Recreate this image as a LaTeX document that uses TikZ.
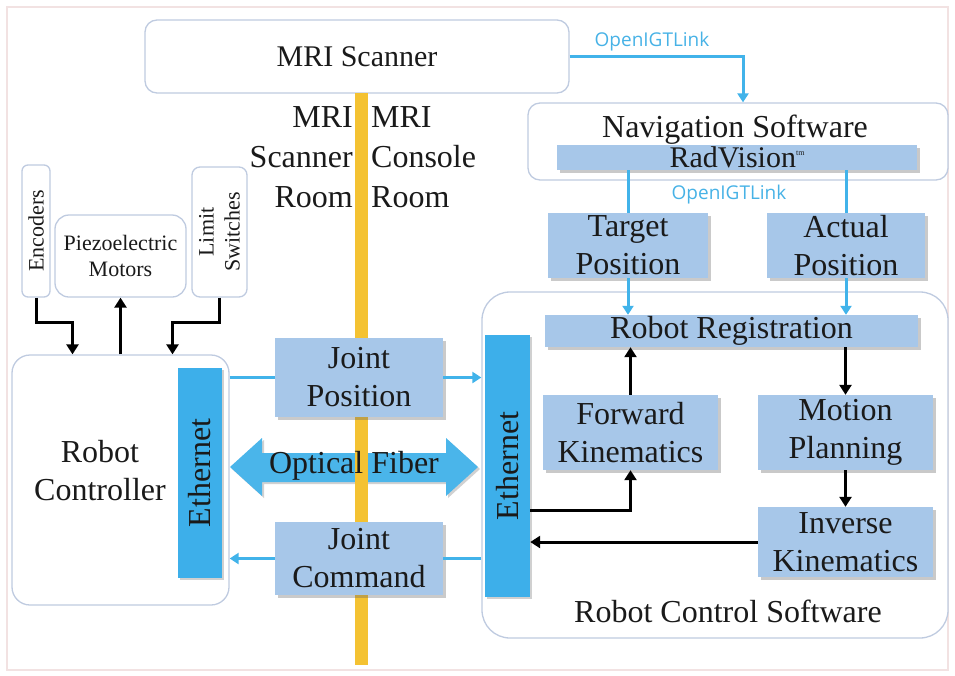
\documentclass[tikz,border=0pt]{standalone}
\usepackage{fontspec}
\setmainfont{Liberation Serif}
\newfontfamily\linkfont{Open Sans}
\usetikzlibrary{arrows.meta,shadows,calc}
\definecolor{boxline}{HTML}{BFCBE0}
\definecolor{lightblue}{HTML}{A7C7E9}
\definecolor{ethblue}{HTML}{3DAFEA}
\definecolor{linkblue}{HTML}{41B3EA}
\definecolor{fiberblue}{HTML}{4AB5EA}
\definecolor{wallyellow}{HTML}{F4C232}
\definecolor{textblue}{HTML}{47B2E6}
\definecolor{framepink}{HTML}{F2E2E2}
\definecolor{ink}{HTML}{1A1A1A}
\begin{document}
\begin{tikzpicture}[x=1pt,y=-1pt,
  rbox/.style={draw=boxline,line width=1.3pt,fill=white,rounded corners=#1,inner sep=0pt},
  rbox/.default=12pt,
  lbox/.style={fill=lightblue,inner sep=0pt,drop shadow={shadow xshift=2.5pt,shadow yshift=-2.5pt,opacity=0.35,fill=black!60}},
  ebox/.style={fill=ethblue,inner sep=0pt,drop shadow={shadow xshift=2pt,shadow yshift=-2pt,opacity=0.3,fill=black!60}},
  bigtxt/.style={font=\fontsize{32}{38}\selectfont,text=ink,align=center},
  smalltxt/.style={font=\fontsize{22}{26}\selectfont,text=ink,align=center},
  linktxt/.style={font={\linkfont\fontsize{19}{22}\selectfont},text=textblue,inner sep=0pt},
  bline/.style={draw=linkblue,line width=3pt},
  blarrow/.style={bline,-{Triangle[length=9pt,width=11pt]}},
  karrow/.style={draw=black,line width=3pt,-{Triangle[length=10pt,width=12pt]}},
  every label/.style={inner sep=0pt}
]
\useasboundingbox (0,0) rectangle (955,675);
\draw[draw=framepink,line width=2pt] (7,7) rectangle (948,670);

% MRI scanner
\node[rbox, minimum width=424pt, minimum height=73pt, font=\fontsize{30}{36}\selectfont, text=ink] (mri) at (357,56.5) {MRI Scanner};

% optical fiber arrow (under the wall)
\path[fill=fiberblue, drop shadow={shadow xshift=2pt,shadow yshift=-2pt,opacity=0.3,fill=black!60}]
  (230,467) -- (262,438) -- (262,453) -- (446,453) -- (446,438) -- (478,467)
  -- (446,496) -- (446,482) -- (262,482) -- (262,496) -- cycle;

% wall between rooms
\node[fill=wallyellow, minimum width=13pt, minimum height=572pt, inner sep=0pt] (wall) at (361.5,379) {};
\node[bigtxt] (fiber) at (354,466) {Optical Fiber};

% room labels
\node[font=\fontsize{32}{40}\selectfont, text=ink, align=right, anchor=east, inner sep=0pt] (scroom) at (353,157) {MRI\\Scanner\\Room};
\node[font=\fontsize{32}{40}\selectfont, text=ink, align=left, anchor=west, inner sep=0pt] (coroom) at (371,157) {MRI\\Console\\Room};

% navigation software
\node[rbox, minimum width=420pt, minimum height=77pt] (nav) at (738,141.5) {};
\node[lbox, minimum width=360pt, minimum height=25pt,
  label={[font=\fontsize{30}{36}\selectfont,text=ink]center:RadVision\raisebox{0.9ex}{\fontsize{8}{8}\selectfont tm}}] (rad) at (737,157.5) {};
\node[bigtxt, inner sep=0pt] (navtxt) at (735,130) {Navigation Software};
\draw[blarrow] (mri.east) -| ([xshift=5pt]nav.north);
\node[linktxt] (link1) at (652,42) {OpenIGTLink};

% target / actual position
\node[lbox, bigtxt, minimum width=160pt, minimum height=65pt] (target) at (628,245.5) {Target\\Position};
\node[lbox, bigtxt, minimum width=158pt, minimum height=65pt] (actual) at (846,245.5) {Actual\\Position};
\draw[bline] (rad.south -| target.north) -- (target.north);
\draw[bline] (rad.south -| actual.north) -- (actual.north);
\node[linktxt] (link2) at (729,195) {OpenIGTLink};

% robot control software
\node[rbox=28pt, minimum width=466pt, minimum height=346pt] (rcs) at (715,465) {};
\node[lbox, minimum width=373pt, minimum height=32pt, label={[bigtxt]center:Robot Registration}] (reg) at (731.5,331) {};
\draw[blarrow] (target.south) -- (target.south |- reg.north);
\draw[blarrow] (actual.south) -- (actual.south |- reg.north);
\node[ebox, minimum width=45pt, minimum height=262pt, label={[bigtxt,rotate=90]center:Ethernet}] (ethR) at (507.5,466) {};
\node[lbox, bigtxt, minimum width=175pt, minimum height=75pt] (fk) at (630.5,432.5) {Forward\\Kinematics};
\node[lbox, bigtxt, minimum width=175pt, minimum height=75pt] (mp) at (845.5,432.5) {Motion\\Planning};
\node[lbox, bigtxt, minimum width=175pt, minimum height=70pt] (ik) at (845.5,542) {Inverse\\Kinematics};
\node[bigtxt, inner sep=0pt] (rcstxt) at (728,611) {Robot Control Software};
\draw[karrow] (fk.north) -- (fk.north |- reg.south);
\draw[karrow] (reg.south -| mp.north) -- (mp.north);
\draw[karrow] (mp.south) -- (ik.north);
\draw[karrow] ($(ethR.east)+(0,44)$) -| (fk.south);
\draw[karrow] (ik.west) -- (ik.west -| ethR.east);

% sensors and motors
\node[rbox=6pt, minimum width=28pt, minimum height=132pt, label={[smalltxt,rotate=90]center:Encoders}] (enc) at (36,231) {};
\node[rbox=14pt, smalltxt, minimum width=131pt, minimum height=82pt] (piezo) at (120.5,256) {Piezoelectric\\Motors};
\node[rbox=8pt, minimum width=55pt, minimum height=130pt, label={[smalltxt,rotate=90]center:Limit\\Switches}] (limit) at (219.5,232) {};

% robot controller
\node[rbox=18pt, minimum width=217pt, minimum height=250pt] (rc) at (120.5,480) {};
\node[bigtxt, inner sep=0pt] (rctxt) at (100,471) {Robot\\Controller};
\node[ebox, minimum width=44pt, minimum height=210pt, label={[bigtxt,rotate=90]center:Ethernet}] (ethL) at (200,473) {};
\draw[karrow] (enc.south) -- ++(0,25) -| ($(rc.north)+(-48,0)$);
\draw[karrow] (rc.north -| piezo.south) -- (piezo.south);
\draw[karrow] (limit.south) -- ++(0,25) -| ($(rc.north)+(52,0)$);

% joint boxes
\node[lbox, bigtxt, minimum width=168pt, minimum height=79pt] (jp) at (359,377.5) {Joint\\Position};
\node[lbox, bigtxt, minimum width=168pt, minimum height=73pt] (jc) at (359,558.5) {Joint\\Command};
\draw[bline] (jp.west -| rc.east) -- (jp.west);
\draw[blarrow] (jp.east) -- (jp.east -| rcs.west);
\draw[bline] (jc.east -| rcs.west) -- (jc.east);
\draw[blarrow] (jc.west) -- (jc.west -| rc.east);
\end{tikzpicture}
\end{document}
